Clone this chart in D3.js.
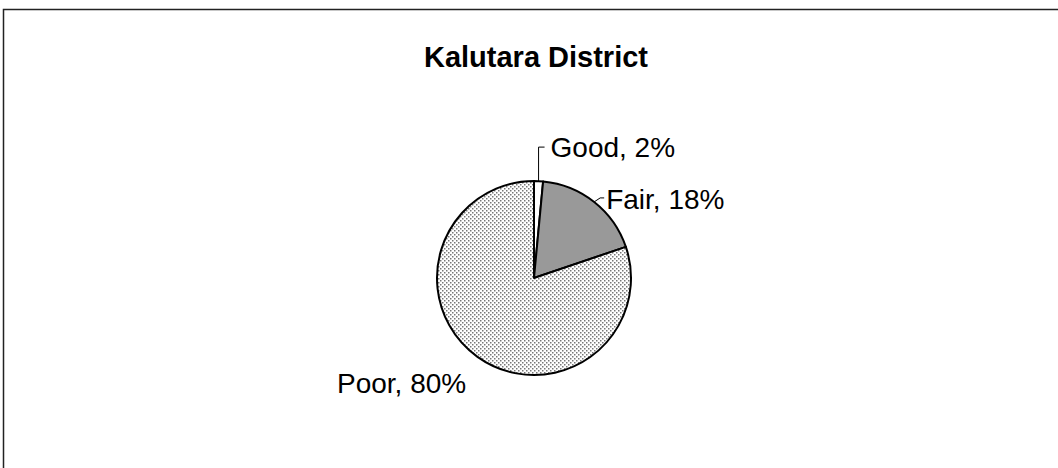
<!DOCTYPE html>
<html>
<head>
<meta charset="utf-8">
<script src="https://cdn.jsdelivr.net/npm/d3@7"></script>
<style>
  body { margin: 0; background: #fff; }
  text { font-family: "Liberation Sans", Arial, sans-serif; fill: #000; }
</style>
</head>
<body>
<svg id="chart" width="1058" height="468"></svg>
<script>
// data
const categories = ['Good', 'Fair', 'Poor'];
const values = [1.5, 18.3, 80.2];
const labels = ['Good, 2%', 'Fair, 18%', 'Poor, 80%'];

const W = 1058, H = 468;
const cx = 534, cy = 278, R = 97;

const svg = d3.select('#chart');

// dotted fill for Poor
const defs = svg.append('defs');
const pat = defs.append('pattern')
  .attr('id', 'dots')
  .attr('patternUnits', 'userSpaceOnUse')
  .attr('width', 4).attr('height', 4);
pat.append('rect').attr('width', 4).attr('height', 4).attr('fill', '#fff');
pat.append('rect').attr('x', 0).attr('y', 0).attr('width', 1.5).attr('height', 1.5).attr('fill', '#777');
pat.append('rect').attr('x', 2).attr('y', 2).attr('width', 1.5).attr('height', 1.5).attr('fill', '#777');

const fills = {Good: '#fff', Fair: '#999', Poor: 'url(#dots)'};

// frame
svg.append('rect')
  .attr('x', 3.5).attr('y', 9.5)
  .attr('width', W).attr('height', H)
  .attr('fill', 'none').attr('stroke', '#222').attr('stroke-width', 1.5);

// title
svg.append('text')
  .attr('x', 536).attr('y', 67)
  .attr('text-anchor', 'middle')
  .style('font-size', '29px').style('font-weight', 'bold')
  .text('Kalutara District');

const table = categories.map((c, i) => ({name: c, value: values[i], label: labels[i]}));
const pie = d3.pie().sort(null).value(d => d.value);
const arcs = pie(table);
const arc = d3.arc().innerRadius(0).outerRadius(R);

const g = svg.append('g').attr('transform', `translate(${cx},${cy})`);

g.selectAll('path')
  .data(arcs)
  .enter()
  .append('path')
  .attr('d', arc)
  .attr('fill', d => fills[d.data.name])
  .attr('stroke', '#000')
  .attr('stroke-width', 2)
  .attr('stroke-linejoin', 'round');

// leader lines + labels, anchored on each slice's mid angle
const mid = d => (d.startAngle + d.endAngle) / 2;
const onRim = (a, r) => [Math.sin(a) * r, -Math.cos(a) * r];

const lbl = g.append('g');

// Good
{
  const d = arcs[0];
  const p = onRim(mid(d), R);
  lbl.append('path')
    .attr('d', `M${p[0]},${p[1]} L${p[0]},${p[1] - 34} L${p[0] + 6},${p[1] - 34}`)
    .attr('fill', 'none').attr('stroke', '#000').attr('stroke-width', 1);
  lbl.append('text')
    .attr('x', p[0] + 12).attr('y', p[1] - 24)
    .style('font-size', '28px')
    .text(d.data.label);
}
// Fair
{
  const d = arcs[1];
  const p = onRim(mid(d), R);
  lbl.append('path')
    .attr('d', `M${p[0]},${p[1]} L${p[0] + 6},${p[1] - 4} L${p[0] + 10},${p[1] - 4}`)
    .attr('fill', 'none').attr('stroke', '#000').attr('stroke-width', 1);
  lbl.append('text')
    .attr('x', p[0] + 12).attr('y', p[1] + 7)
    .style('font-size', '28px')
    .text(d.data.label);
}
// Poor
{
  const d = arcs[2];
  lbl.append('text')
    .attr('x', -197).attr('y', 115)
    .style('font-size', '28px')
    .text(d.data.label);
}
</script>
</body>
</html>
